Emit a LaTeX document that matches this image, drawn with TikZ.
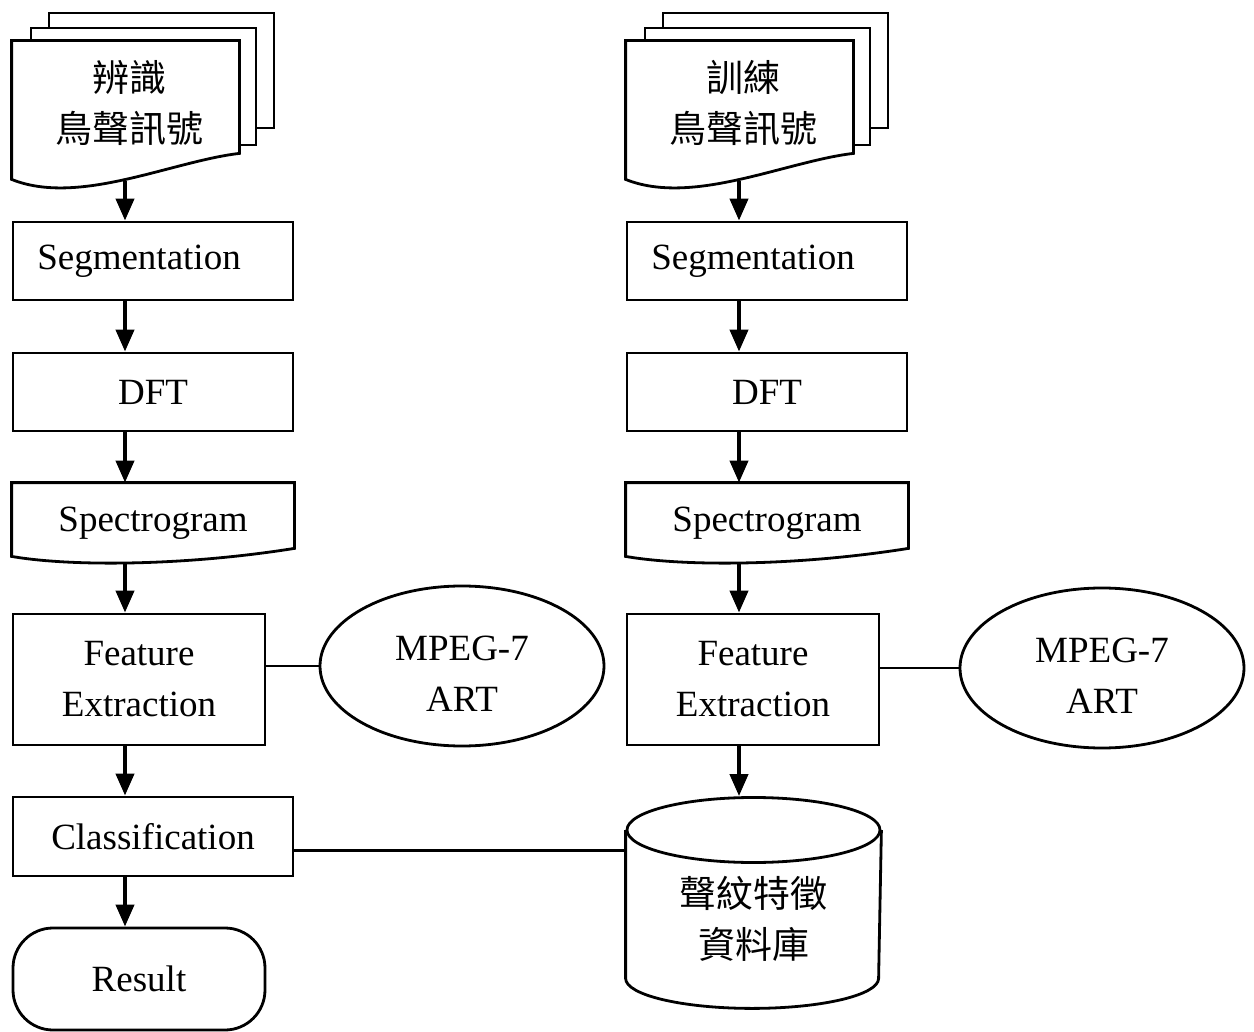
\documentclass[tikz,border=0pt]{standalone}
\usepackage{fontspec}
\setmainfont{Liberation Serif}
\newfontfamily\cjk{Noto Sans CJK TC}
\usetikzlibrary{arrows.meta, calc, shapes.geometric}

\tikzset{
  box/.style={draw, line width=1.4pt, minimum width=140pt, minimum height=39pt, inner sep=0pt, align=center},
  page/.style={line width=1.4pt},
  arr/.style={-{Triangle[width=9pt,length=11pt]}, line width=2pt},
  link/.style={line width=1.4pt},
  oval/.style={draw, ellipse, line width=1.4pt, minimum width=142pt, minimum height=80pt, inner sep=0pt},
  zh/.style={font=\fontsize{18.5pt}{25.5pt}\selectfont\cjk}
}

\begin{document}
\begin{tikzpicture}[x=0.5pt, y=-0.5pt, font=\fontsize{18.5pt}{25.5pt}\selectfont]
\useasboundingbox (0,0) rectangle (1254,1032);
\coordinate (colL) at (125,0);
\coordinate (colR) at (739,0);

% left column: recognition
\draw[page] (49,28)--(49,13)--(274,13)--(274,128)--(256,128);
\draw[page] (31,42)--(31,28)--(256,28)--(256,145)--(238,145);
\node[box, draw=none, minimum width=112.5pt, minimum height=69pt,
  label={[zh, align=center, yshift=4pt, xshift=2pt]center:辨識\\鳥聲訊號}] (docL) at (125.5,111) {};
\draw[page] (docL.north west)--(docL.north east)--($(docL.south east)+(0,-28)$) .. controls +(-68,8) and +(67,27) .. ($(docL.south west)+(0,-2)$)--cycle;
\node[box] (segL) at (153,261) {Segmentation\hspace*{14pt}};
\node[box] (dftL) at (153,392) {DFT};
\node[box, draw=none] (specL) at (153,523) {Spectrogram};
\draw[page] (specL.north west)--(specL.north east)--($(specL.south east)+(0,-15)$) .. controls +(-113,18) and +(57,10) .. ($(specL.south west)+(0,-7)$)--cycle;
\node[box, minimum width=126pt, minimum height=65.5pt] (featL) at (139,679.5) {Feature\\Extraction};
\node[oval, label={[align=center, yshift=-4pt]center:MPEG-7\\ART}] (artL) at (462,666) {};
\node[box, minimum height=39.5pt] (clsL) at (153,836.5) {Classification};
\node[box, rounded corners=20pt, minimum width=126pt, minimum height=51pt] (resL) at (139,979) {Result};

\draw[arr] (docL.south -| colL)--(segL.north -| colL);
\draw[arr] (segL.south -| colL)--(dftL.north -| colL);
\draw[arr] (dftL.south -| colL)--(specL.north -| colL);
\draw[arr] (specL.south -| colL)--(featL.north -| colL);
\draw[arr] (featL.south -| colL)--(clsL.north -| colL);
\draw[arr] (clsL.south -| colL)--(resL.north -| colL);
\draw[link] (artL.west -| featL.east)--(artL.west);

% right column: training
\draw[page] (663,28)--(663,13)--(888,13)--(888,128)--(870,128);
\draw[page] (645,42)--(645,28)--(870,28)--(870,145)--(852,145);
\node[box, draw=none, minimum width=112.5pt, minimum height=69pt,
  label={[zh, align=center, yshift=4pt, xshift=2pt]center:訓練\\鳥聲訊號}] (docR) at (739.5,111) {};
\draw[page] (docR.north west)--(docR.north east)--($(docR.south east)+(0,-28)$) .. controls +(-68,8) and +(67,27) .. ($(docR.south west)+(0,-2)$)--cycle;
\node[box] (segR) at (767,261) {Segmentation\hspace*{14pt}};
\node[box] (dftR) at (767,392) {DFT};
\node[box, draw=none] (specR) at (767,523) {Spectrogram};
\draw[page] (specR.north west)--(specR.north east)--($(specR.south east)+(0,-15)$) .. controls +(-113,18) and +(57,10) .. ($(specR.south west)+(0,-7)$)--cycle;
\node[box, minimum width=126pt, minimum height=65.5pt] (featR) at (753,679.5) {Feature\\Extraction};
\node[oval, label={[align=center, yshift=-4pt]center:MPEG-7\\ART}] (artR) at (1102,668) {};
\node[draw, ellipse, line width=1.4pt, minimum width=126.5pt, minimum height=32.5pt, inner sep=0pt] (dbtop) at (753.5,830) {};
\node[box, draw=none, zh, minimum width=126.5pt, minimum height=88.5pt] (dbR) at (753.5,918.5) {聲紋特徵\\資料庫};
\draw[page] (dbtop.west)--($(dbR.south west)+(0,-30)$) arc[start angle=180, end angle=360, x radius=63.25pt, y radius=15pt]--(dbtop.east);

\draw[arr] (docR.south -| colR)--(segR.north -| colR);
\draw[arr] (segR.south -| colR)--(dftR.north -| colR);
\draw[arr] (dftR.south -| colR)--(specR.north -| colR);
\draw[arr] (specR.south -| colR)--(featR.north -| colR);
\draw[arr] (featR.south -| colR)--(dbtop.north -| colR);
\draw[link] (artR.west -| featR.east)--(artR.west);
\draw[link] ([yshift=-7pt]clsL.east)--([yshift=-7pt]clsL.east -| dbR.west);
\end{tikzpicture}
\end{document}
